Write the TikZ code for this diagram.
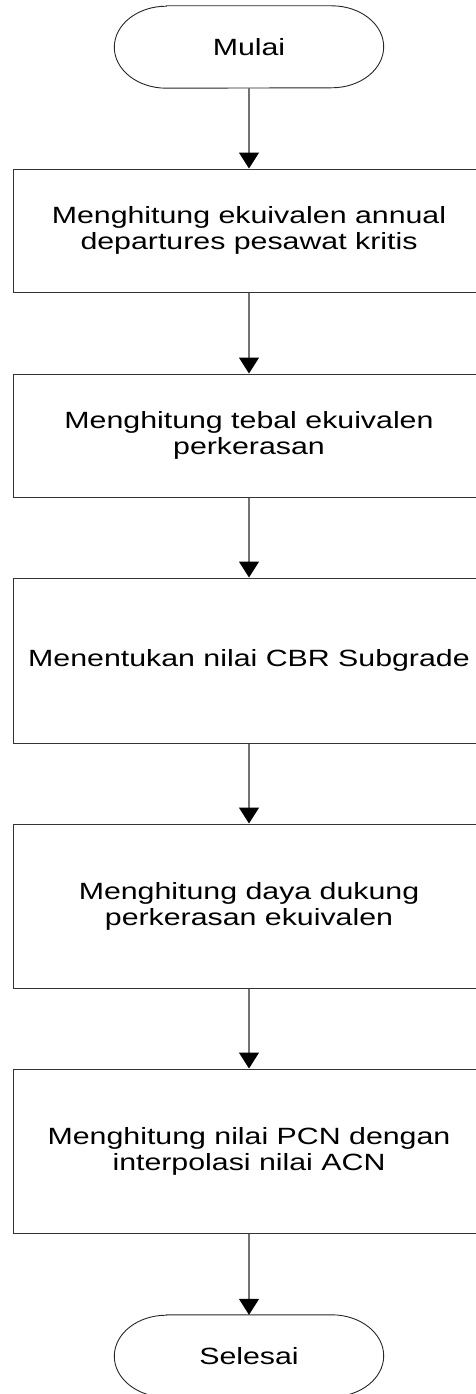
\documentclass[tikz,border=0pt]{standalone}
\usepackage{fontspec}
\setmainfont{Liberation Sans}[FakeStretch=1.29]
\usetikzlibrary{arrows.meta}
\begin{document}
\begin{tikzpicture}[x=1pt,y=1pt,
  txt/.style={font=\fontsize{23.5}{26}\selectfont, text=black},
  proc/.style={txt, draw=black!80, line width=1pt, minimum width=472pt, inner sep=0pt, align=center},
  term/.style={txt, minimum width=269pt, minimum height=82pt, inner sep=0pt},
  termline/.style={draw=black!85, line width=0.9pt},
  flow/.style={draw=black!55, line width=1.3pt, -{Triangle[width=20pt,length=16pt,color=black,fill=black]}}]
\useasboundingbox (0,0) rectangle (476,-1394);
\node[term] (t1) at (249,-47) {Mulai};
\node[proc, minimum height=123pt] (b1) at (249,-230.5) {Menghitung ekuivalen annual\\departures pesawat kritis};
\node[proc, minimum height=123pt] (b2) at (249,-435.5) {Menghitung tebal ekuivalen\\perkerasan};
\node[proc, minimum height=165pt] (b3) at (249,-660.5) {Menentukan nilai CBR Subgrade};
\node[proc, minimum height=164pt] (b4) at (249,-906) {Menghitung daya dukung\\perkerasan ekuivalen};
\node[proc, minimum height=164pt] (b5) at (249,-1151) {Menghitung nilai PCN dengan\\interpolasi nilai ACN};
\node[term] (t2) at (249,-1356) {Selesai};
\foreach \t in {t1,t2}{
  \draw[termline] ([xshift=52pt]\t.north west) -- ([xshift=-52pt]\t.north east)
    arc[start angle=90,end angle=-90,x radius=52pt,y radius=41pt]
    -- ([xshift=52pt]\t.south west)
    arc[start angle=270,end angle=90,x radius=52pt,y radius=41pt] -- cycle;
}
\draw[flow] (t1.south) -- (b1.north);
\draw[flow] (b1.south) -- (b2.north);
\draw[flow] (b2.south) -- (b3.north);
\draw[flow] (b3.south) -- (b4.north);
\draw[flow] (b4.south) -- (b5.north);
\draw[flow] (b5.south) -- (t2.north);
\end{tikzpicture}
\end{document}
